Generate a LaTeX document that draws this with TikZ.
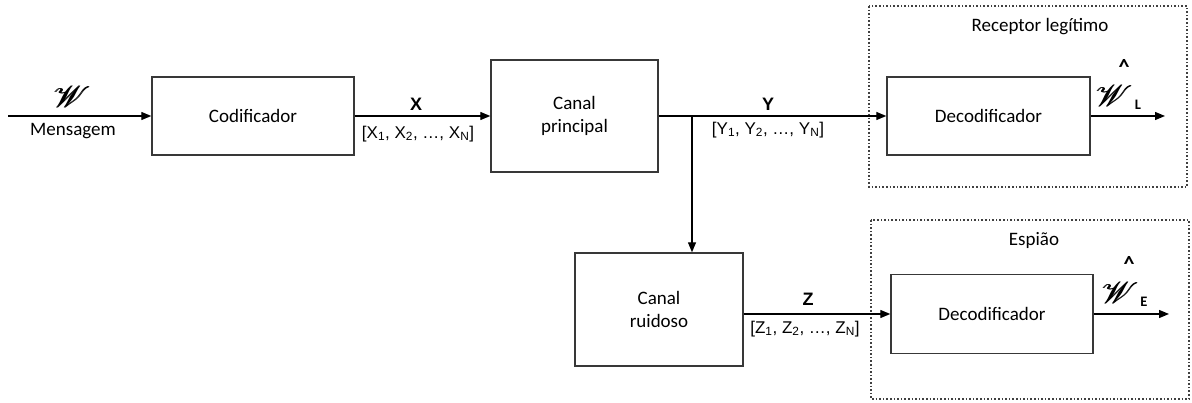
\documentclass[tikz,border=0pt]{standalone}
\usepackage{fontspec}
\setmainfont{Carlito}
\newfontfamily\arialfont{Liberation Sans}
\usepackage{mathrsfs}
\usetikzlibrary{arrows.meta}

% script W, set large and slightly emboldened by overprinting
\newcommand{\bigscrW}{\resizebox{38pt}{21pt}{%
  \rlap{$\mathscr{W}$}\kern0.025em$\mathscr{W}$}}

\begin{document}
\begin{tikzpicture}[x=1pt,y=-1pt,
  blockbox/.style={draw=black!78, line width=1.4pt, fill=white, align=center,
    font=\fontsize{19}{23}\selectfont, inner sep=0pt},
  regionbox/.style={draw=black!75, line width=1.6pt, dotted},
  conn/.style={draw=black, line width=1.3pt, -{Triangle[length=10pt,width=8pt]}},
  sym/.style={font=\arialfont\fontsize{18}{20}\selectfont\bfseries, inner sep=0pt},
  vec/.style={font=\arialfont\fontsize{17}{20}\selectfont, inner sep=0pt},
  lbl/.style={font=\fontsize{19}{23}\selectfont, inner sep=0pt},
  scr/.style={inner sep=0pt},
  sub/.style={font=\fontsize{14.5}{16}\selectfont\bfseries, inner sep=0pt},
  hatmark/.style={font=\fontsize{22}{24}\selectfont\bfseries, inner sep=0pt,
    text height=8pt, text depth=-6pt}]
\useasboundingbox (0,0) rectangle (1192,403);

% dotted receiver regions
\draw[regionbox] (869,6) rectangle (1187,187);
\draw[regionbox] (871,220) rectangle (1189,399);
\node[lbl] (recL) at (1040,27) {Receptor legítimo};
\node[lbl] (recE) at (1034,240) {Espião};

% processing blocks
\node[blockbox, minimum width=202pt, minimum height=78pt] (cod) at (253,116) {Codificador};
\node[blockbox, minimum width=167pt, minimum height=112pt] (canP) at (574.5,116) {Canal\\principal};
\node[blockbox, minimum width=203pt, minimum height=78pt] (decL) at (988.5,116) {Decodificador};
\node[blockbox, minimum width=168pt, minimum height=113pt] (ruid) at (659,309.5) {Canal\\ruidoso};
\node[blockbox, minimum width=202pt, minimum height=79pt] (decE) at (992,314) {Decodificador};

% message input
\coordinate (inW) at (8,116);
\draw[conn] (inW) -- (cod.west);
\node[scr] (msgW) at (72,97) {\bigscrW};
\node[lbl] (msg) at (73,131) {Mensagem};

% main channel
\draw[conn] (cod.east) -- (canP.west);
\node[sym] (lx) at (416,104) {X};
\node[vec] (vx) at (418,134) {[X\textsubscript{1}, X\textsubscript{2}, …, X\textsubscript{N}]};

\draw[conn] (canP.east) -- (decL.west);
\node[sym] (ly) at (768,104) {Y};
\node[vec] (vy) at (768,130) {[Y\textsubscript{1}, Y\textsubscript{2}, …, Y\textsubscript{N}]};

% branch to the noisy channel
\coordinate (br) at (692,116);
\draw[conn] (br) -- (br |- ruid.north);

\draw[conn] (ruid.east |- decE.west) -- (decE.west);
\node[sym] (lz) at (808,299) {Z};
\node[vec] (vz) at (805,329) {[Z\textsubscript{1}, Z\textsubscript{2}, …, Z\textsubscript{N}]};

% decoder outputs
\coordinate (outL) at (1165,116);
\draw[conn] (decL.east) -- (outL);
\node[scr] (wL) at (1114,96) {\bigscrW};
\node[hatmark] (hL) at (1124,71) {\textasciicircum};
\node[sub] (sL) at (1138,105) {L};

\coordinate (outE) at (1169,314);
\draw[conn] (decE.east) -- (outE);
\node[scr] (wE) at (1120,293) {\bigscrW};
\node[hatmark] (hE) at (1129,268) {\textasciicircum};
\node[sub] (sE) at (1144,302) {E};
\end{tikzpicture}
\end{document}
